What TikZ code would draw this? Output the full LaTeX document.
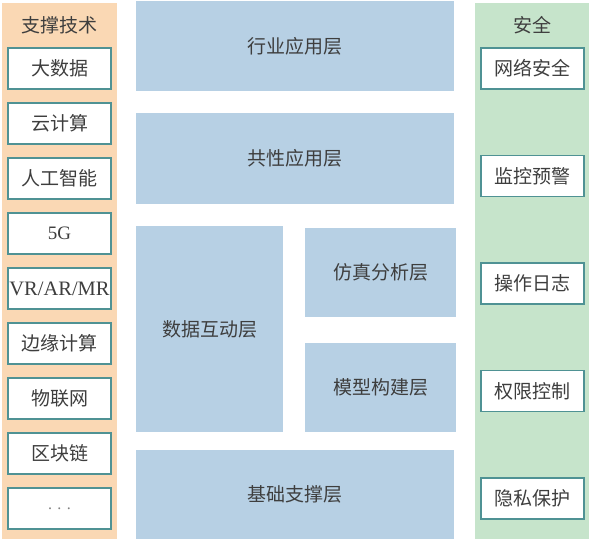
\documentclass[tikz,border=0pt]{standalone}
\usepackage{fontspec}
\setmainfont{Noto Sans CJK SC}
\newfontfamily\latinserif{Liberation Serif}
\usetikzlibrary{positioning}
\definecolor{panelorange}{HTML}{FAD8B4}
\definecolor{panelgreen}{HTML}{C6E4CB}
\definecolor{layerblue}{HTML}{B7D0E4}
\definecolor{boxteal}{HTML}{4F9294}
\definecolor{textgrey}{HTML}{3E3E3E}
\tikzstyle{techbox} = [draw=boxteal, line width=1.1pt, fill=white, minimum width=103pt, minimum height=41pt, inner sep=0pt, text=textgrey, font=\fontsize{19}{19}\selectfont]
\tikzstyle{layer} = [fill=layerblue, inner sep=0pt, text=textgrey, font=\fontsize{19}{19}\selectfont]
\tikzstyle{paneltitle} = [text=textgrey, font=\fontsize{19}{19}\selectfont]

\begin{document}
\begin{tikzpicture}[x=1pt,y=-1pt]
\useasboundingbox (0,0) rectangle (596,550);
% side panels
\fill[panelorange] (2,3) rectangle (117,539);
\fill[panelgreen] (475,3) rectangle (589,539);
\node[paneltitle] (techtitle) at (59.5,25) {支撑技术};
\node[paneltitle] (safetitle) at (532,25) {安全};
% support technologies
\foreach \txt [count=\i] in {大数据, 云计算, 人工智能, {\latinserif 5G}, {\latinserif\fontsize{20.5}{20}\selectfont VR/AR/MR}, 边缘计算, 物联网, 区块链, {\latinserif\fontsize{16}{16}\selectfont\color{gray}. . .}}
  \node[techbox] (tech\i) at (59.5,{68.5+55*(\i-1)}) {\txt};
% security
\foreach \txt [count=\i] in {网络安全, 监控预警, 操作日志, 权限控制, 隐私保护}
  \node[techbox] (safe\i) at (532.5,{68.5+107.5*(\i-1)}) {\txt};
% layers
\node[layer, minimum width=318pt, minimum height=90pt] (industry) at (295,46) {行业应用层};
\node[layer, minimum width=318pt, minimum height=91pt] (common) at (295,158.5) {共性应用层};
\node[layer, minimum width=147pt, minimum height=206pt] (datalayer) at (209.5,329) {数据互动层};
\node[layer, minimum width=151pt, minimum height=89pt] (simulation) at (380.5,272.5) {仿真分析层};
\node[layer, minimum width=151pt, minimum height=89pt] (modelling) at (380.5,387.5) {模型构建层};
\node[layer, minimum width=318pt, minimum height=89pt] (base) at (295,494.5) {基础支撑层};
\end{tikzpicture}
\end{document}
